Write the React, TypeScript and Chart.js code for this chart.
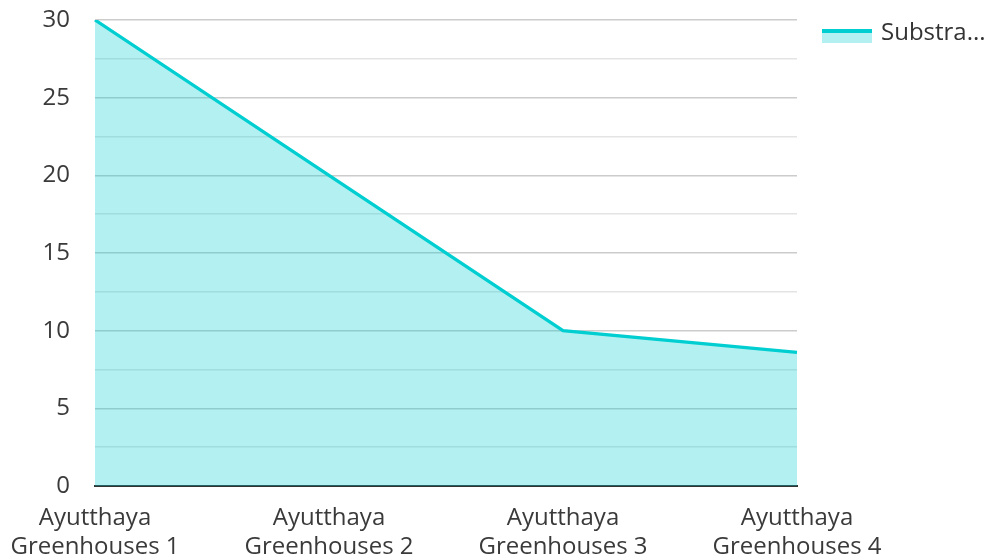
import React, { useEffect, useRef } from "react";
import { Chart, registerables } from "chart.js";

Chart.register(...registerables);

const categories: string[][] = [
  ["Ayutthaya", "Greenhouses 1"],
  ["Ayutthaya", "Greenhouses 2"],
  ["Ayutthaya", "Greenhouses 3"],
  ["Ayutthaya", "Greenhouses 4"],
];
const seriesLabel = "Substrate Temperature";
const seriesValues: number[] = [30, 20, 10, 8.6];
const yMin = 0;
const yMax = 30;
const yStep = 2.5;

const LINE = "#00ced1";
const FILL = "rgba(0,206,209,0.3)";
const FONT = "'Open Sans', 'Noto Sans', sans-serif";

const legendPlugin = {
  id: "customLegend",
  afterDraw(chart: any) {
    const ctx = chart.ctx;
    const ds = chart.data.datasets[0];
    const x = 822;
    const y = 29;
    ctx.save();
    ctx.fillStyle = ds.backgroundColor;
    ctx.fillRect(x, y + 3, 50, 11);
    ctx.fillStyle = ds.borderColor;
    ctx.fillRect(x, y, 50, 4);
    ctx.fillStyle = "#333";
    ctx.font = `24px ${FONT}`;
    ctx.textBaseline = "middle";
    const label: string = ds.label;
    const text = label.length > 7 ? label.slice(0, 7) + "..." : label;
    ctx.fillText(text, 881, y + 4);
    ctx.restore();
  },
};

export default function App() {
  const ref = useRef<HTMLCanvasElement | null>(null);
  useEffect(() => {
    document.body.style.margin = "0";
    const chart = new Chart(ref.current as HTMLCanvasElement, {
      type: "line",
      data: {
        labels: categories,
        datasets: [
          {
            label: seriesLabel,
            data: seriesValues,
            borderColor: LINE,
            backgroundColor: FILL,
            borderWidth: 3.3,
            fill: "origin",
            pointRadius: 0,
            tension: 0,
          },
        ],
      },
      options: {
        animation: false,
        responsive: false,
        layout: { padding: { top: 20, right: 195, left: 0, bottom: 0 } },
        plugins: {
          legend: { display: false },
          tooltip: { enabled: false },
        },
        scales: {
          x: {
            offset: false,
            grid: { display: false },
            border: { display: true, color: "#333", width: 2 },
            ticks: {
              color: "#3a3a3a",
              font: { family: FONT, size: 24 },
              maxRotation: 0,
              autoSkip: false,
              padding: 10,
            },
            afterFit(scale: any) {
              scale.height = 74;
            },
          },
          y: {
            min: yMin,
            max: yMax,
            border: { display: false },
            grid: {
              color: (c: any) =>
                c.tick && c.tick.value % 5 === 0 ? "#cccccc" : "#e4e4e4",
              lineWidth: 1.5,
              drawTicks: false,
            },
            ticks: {
              stepSize: yStep,
              autoSkip: false,
              color: "#3a3a3a",
              font: { family: FONT, size: 24 },
              padding: 25,
              callback: (v: any) => (Number(v) % 5 === 0 ? String(v) : ""),
            },
            afterFit(scale: any) {
              scale.width = 95;
              scale.paddingTop = 0;
              scale.paddingBottom = 0;
            },
          },
        },
      },
      plugins: [legendPlugin],
    });
    return () => chart.destroy();
  }, []);
  return (
    <div style={{ width: 992, height: 560 }}>
      <canvas ref={ref} width={992} height={560} style={{ display: "block" }} />
    </div>
  );
}
